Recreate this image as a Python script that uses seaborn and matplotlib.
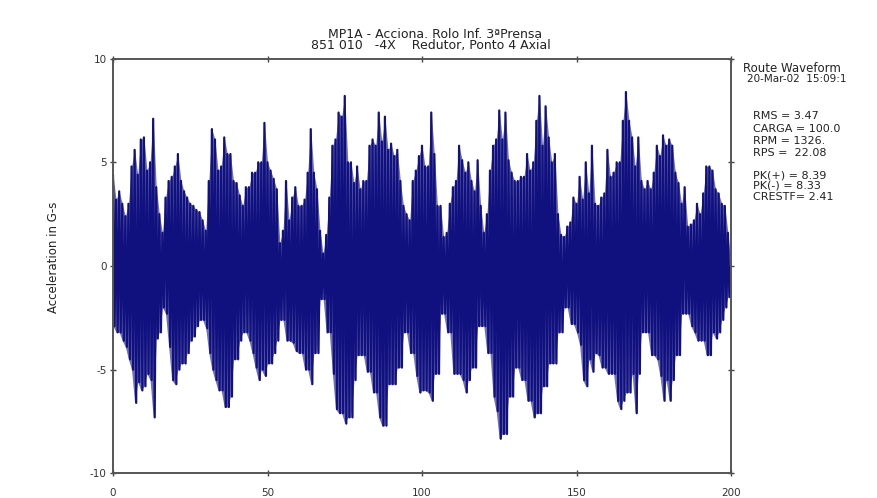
import numpy as np
import pandas as pd
import matplotlib
matplotlib.use("Agg")
import matplotlib.pyplot as plt
import seaborn as sns

# ---- data (envelope of the waveform per time unit 0..200) ----
upper_peaks = [
    4.4, 3.2, 3.6, 3.0, 2.4, 3.0, 4.8, 5.6, 4.4, 6.1, 6.2, 4.6, 5.0, 7.1, 3.8, 2.5, 1.6, 3.3, 4.1, 4.3,
    4.8, 5.4, 4.1, 3.6, 3.3, 3.0, 2.9, 2.7, 2.6, 2.2, 1.7, 4.1, 6.6, 6.1, 4.6, 4.8, 6.2, 5.4, 5.4, 4.1,
    4.0, 3.4, 2.9, 3.8, 3.8, 4.5, 4.5, 5.0, 5.0, 6.9, 5.0, 4.6, 4.2, 3.7, 1.1, 1.7, 4.1, 2.2, 3.3, 3.8,
    2.9, 2.9, 3.2, 4.5, 6.6, 4.5, 3.7, 1.7, 0.6, 1.5, 3.3, 5.8, 6.1, 7.4, 7.2, 8.2, 5.0, 5.0, 4.0, 4.8,
    3.7, 4.1, 4.1, 5.8, 6.1, 5.8, 7.4, 6.0, 7.2, 5.6, 5.9, 5.3, 5.6, 4.1, 2.9, 2.5, 2.2, 4.1, 4.6, 5.3,
    5.8, 4.8, 4.8, 7.4, 5.4, 2.9, 2.9, 1.4, 1.6, 3.0, 3.8, 4.1, 5.8, 5.1, 4.5, 5.0, 4.1, 3.6, 5.1, 2.9,
    1.6, 2.5, 4.6, 5.8, 6.1, 7.5, 6.1, 7.4, 5.1, 4.5, 4.1, 4.1, 4.3, 4.3, 5.4, 4.6, 5.0, 7.0, 8.2, 5.8,
    7.7, 6.2, 5.0, 5.4, 2.5, 1.5, 1.4, 1.9, 2.1, 3.3, 3.0, 4.3, 3.2, 5.0, 3.5, 5.8, 3.0, 2.9, 3.3, 3.5,
    5.6, 4.3, 4.5, 5.0, 5.0, 7.0, 8.39, 7.0, 6.2, 4.8, 6.2, 4.1, 3.7, 4.1, 3.7, 4.5, 5.8, 5.3, 6.3, 5.8,
    6.1, 5.8, 4.5, 4.0, 3.0, 3.8, 1.9, 2.0, 2.2, 3.0, 2.5, 3.5, 4.8, 4.8, 4.6, 3.7, 3.5, 3.0, 2.9, 1.6,
    0.0,
]
lower_peaks = [
    -2.9, -3.2, -3.2, -3.6, -3.9, -4.5, -5.0, -6.6, -5.6, -6.0, -5.8, -5.2, -5.5, -7.3, -3.5, -3.2, -2.0, -2.3, -3.9, -5.5,
    -5.7, -5.0, -4.7, -4.7, -4.2, -3.6, -3.4, -2.9, -2.6, -2.6, -3.0, -4.2, -5.0, -5.5, -6.0, -6.0, -6.8, -6.8, -6.3, -4.5,
    -4.5, -3.6, -3.2, -3.2, -3.6, -4.2, -4.9, -5.5, -5.0, -5.3, -4.7, -4.7, -4.2, -3.6, -2.6, -2.6, -3.6, -3.6, -3.7, -4.1,
    -4.2, -4.2, -5.0, -5.0, -5.7, -4.2, -4.2, -1.6, -1.6, -3.2, -3.2, -5.2, -6.9, -7.1, -7.1, -7.6, -7.3, -7.3, -5.5, -4.3,
    -4.3, -4.3, -5.1, -5.1, -6.1, -6.1, -7.3, -7.7, -7.7, -5.7, -5.7, -5.7, -4.9, -4.9, -3.2, -3.2, -4.2, -4.2, -5.3, -6.1,
    -6.0, -6.0, -6.1, -6.5, -5.2, -5.2, -2.3, -2.3, -3.2, -3.2, -5.2, -5.2, -5.2, -5.5, -6.1, -5.5, -4.9, -4.9, -2.9, -2.9,
    -2.9, -4.2, -4.2, -6.3, -7.0, -8.33, -8.1, -8.1, -6.3, -6.3, -4.9, -4.9, -5.5, -5.5, -6.5, -6.5, -7.3, -7.1, -7.1, -5.8,
    -5.8, -4.7, -4.7, -4.7, -3.2, -3.2, -2.0, -2.0, -2.8, -2.8, -3.2, -3.8, -5.5, -5.8, -4.5, -5.1, -4.2, -4.3, -4.9, -4.9,
    -5.2, -5.2, -5.2, -6.5, -6.9, -6.5, -6.1, -6.1, -5.2, -7.1, -5.2, -3.2, -3.2, -3.2, -4.3, -4.3, -4.5, -5.3, -6.5, -5.5,
    -6.5, -5.5, -4.3, -4.3, -2.3, -2.3, -2.3, -2.9, -3.2, -3.6, -3.6, -3.6, -4.3, -4.3, -3.2, -3.5, -3.2, -2.6, -2.0, -1.5,
    0.0,
]
time_units = list(range(201))

x_ticks = [0, 50, 100, 150, 200]
y_ticks = [-10, -5, 0, 5, 10]

title_lines = ["MP1A - Acciona. Rolo Inf. 3ªPrensa", "851 010   -4X    Redutor, Ponto 4 Axial"]
y_label = "Acceleration in G-s"
info_head = ["Route Waveform", "20-Mar-02  15:09:1"]
info_stats = ["RMS = 3.47", "CARGA = 100.0", "RPM = 1326.", "RPS =  22.08"]
info_peaks = ["PK(+) = 8.39", "PK(-) = 8.33", "CRESTF= 2.41"]

# ---- waveform table: each time unit contributes its positive then negative peak ----
rows = []
for i, t in enumerate(time_units[:-1]):
    rows.append((t, upper_peaks[i], 2 * i))
    rows.append((t + 0.5, lower_peaks[i], 2 * i + 1))
rows.append((time_units[-1], upper_peaks[-1], 2 * len(time_units)))
df = pd.DataFrame(rows, columns=["t", "g", "order"]).sort_values("order")

sns.set_theme(style="white")
plt.rcParams["font.family"] = ["DejaVu Sans"]

W, H = 877, 498
fig = plt.figure(figsize=(W / 100, H / 100), dpi=100)
fig.patch.set_facecolor("white")
ax = fig.add_axes([113 / W, 1 - 473.4 / H, (731 - 113) / W, (473.4 - 58.6) / H])

# light envelope behind (the thin spikes of the trace), dense trace on top
ax.fill_between(time_units, lower_peaks, upper_peaks, color="#7070b4", linewidth=0, zorder=1)
sns.lineplot(data=df, x="t", y="g", sort=False, estimator=None,
             color="#10107f", linewidth=1.6, ax=ax, zorder=2)

ax.set_xlim(0, 200)
ax.set_ylim(-10, 10)
ax.set_xticks(x_ticks)
ax.set_yticks(y_ticks)
ax.set_xticklabels([str(v) for v in x_ticks], fontsize=7.5, color="#333333")
ax.set_yticklabels([str(v) for v in y_ticks], fontsize=7.5, color="#333333")
ax.tick_params(axis="both", direction="inout", length=5, width=1.0, color="#444444",
               top=True, right=True, bottom=True, left=True,
               labeltop=False, labelright=False)
ax.tick_params(axis="x", pad=8)
ax.tick_params(axis="y", pad=2)
for s in ax.spines.values():
    s.set_color("#555555")
    s.set_linewidth(1.4)
    s.set_zorder(3)
ax.set_xlabel("")
ax.set_ylabel(y_label, fontsize=8.5, color="#222222")
ax.yaxis.set_label_coords(-0.086, 0.52)

fig.text(435 / W, 1 - 34 / H, title_lines[0], ha="center", va="center", fontsize=9, color="#222222")
fig.text(431 / W, 1 - 46 / H, title_lines[1], ha="center", va="center", fontsize=9, color="#222222")

fig.text(743 / W, 1 - 68 / H, info_head[0], ha="left", va="center", fontsize=8.5, color="#222222")
fig.text(747 / W, 1 - 79 / H, info_head[1], ha="left", va="center", fontsize=7.5, color="#222222")
for txt, yy in zip(info_stats, [116, 129, 141, 153]):
    fig.text(753 / W, 1 - yy / H, txt, ha="left", va="center", fontsize=8, color="#222222")
for txt, yy in zip(info_peaks, [175, 186, 197]):
    fig.text(753 / W, 1 - yy / H, txt, ha="left", va="center", fontsize=8, color="#222222")

fig.savefig("out.png", dpi=100, facecolor="white")
